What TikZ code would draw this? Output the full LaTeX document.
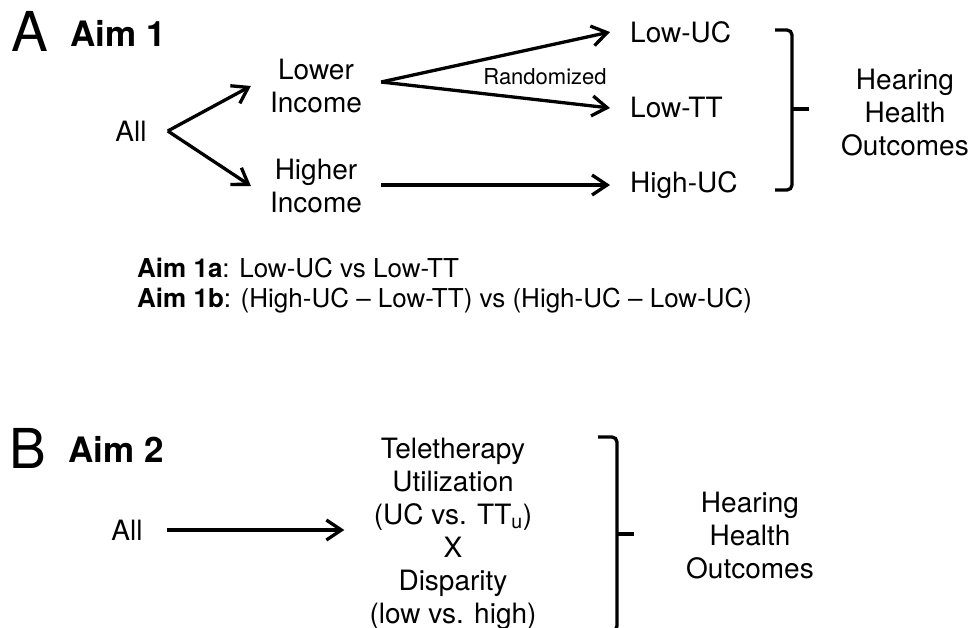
\documentclass[tikz,border=0pt]{standalone}
\usepackage{fontspec}
\setmainfont{TeX Gyre Heros}
\usetikzlibrary{arrows.meta}
\begin{document}
\begin{tikzpicture}[x=1pt,y=-1pt,
  txt/.style={inner ysep=0pt, inner xsep=0pt, font=\fontsize{28}{33}\selectfont, align=center},
  big/.style={inner sep=0pt, anchor=base west, font=\fontsize{55}{60}\selectfont},
  aimhead/.style={inner sep=0pt, anchor=base west, font=\bfseries\fontsize{35}{40}\selectfont},
  aimline/.style={inner sep=0pt, anchor=base west, font=\fontsize{26}{30}\selectfont},
  arr/.style={line width=3.3pt, -{Straight Barb[length=15pt,width=20pt]}},
  brk/.style={line width=3.3pt, rounded corners=5pt},
  tick/.style={line width=3.3pt}]
\useasboundingbox (0,0) rectangle (971,628);

% ---------- Panel A ----------
\node[big] (labA) at (11,52) {A};
\node[aimhead] (aim1) at (70,47) {Aim 1};

\node[txt, inner xsep=21pt] (allA) at (131,131) {All};
\node[txt, inner xsep=19pt] (lower) at (316,86) {Lower\\Income};
\node[txt, inner xsep=19pt] (higher) at (316,186) {Higher\\Income};

\node[txt, inner xsep=20pt, anchor=west] (lowUC) at (610,32) {Low-UC};
\node[txt, inner xsep=20pt, anchor=west] (lowTT) at (610,108) {Low-TT};
\node[txt, inner xsep=20pt, anchor=west] (highUC) at (610,185) {High-UC};

\node[inner sep=0pt, font=\fontsize{22}{26}\selectfont] (rand) at (545,77) {Randomized};

\draw[arr] (allA.east) -- (lower.west);
\draw[arr] (allA.east) -- (higher.west);
\draw[arr] ([yshift=4pt]lower.east) -- (lowUC.west);
\draw[arr] ([yshift=4pt]lower.east) -- (lowTT.west);
\draw[arr] (higher.east |- highUC.west) -- (highUC.west);

\coordinate (bAt) at (775,30);
\coordinate (bAb) at (775,190);
\coordinate (bAm) at (792,109);
\draw[brk] (bAt) -- (792,30) -- (792,190) -- (bAb);
\draw[tick] (bAm) -- ++(17,0);

\node[txt] (hhoA) at (905,113) {Hearing\\Health\\Outcomes};

\node[aimline] (aim1a) at (137,277) {\textbf{Aim 1a}: Low-UC vs Low-TT};
\node[aimline] (aim1b) at (137,307) {\textbf{Aim 1b}: (High-UC – Low-TT) vs (High-UC – Low-UC)};

% ---------- Panel B ----------
\node[big] (labB) at (9,468) {B};
\node[aimhead] (aim2) at (68,462) {Aim 2};

\node[txt, inner xsep=24pt] (allB) at (127,530) {All};
\node[txt, inner xsep=25pt] (tele) at (453,534) {Teletherapy\\Utilization\\(UC vs. TT\textsubscript{u})\\X\\Disparity\\(low vs. high)};
\draw[arr] (allB.east) -- (allB.east -| tele.west);

\coordinate (bBt) at (598,437);
\coordinate (bBb) at (598,631);
\coordinate (bBm) at (617,534);
\draw[brk] (bBt) -- (617,437) -- (617,631) -- (bBb);
\draw[tick] (bBm) -- ++(17,0);

\node[txt] (hhoB) at (750,536) {Hearing\\Health\\Outcomes};
\end{tikzpicture}
\end{document}
